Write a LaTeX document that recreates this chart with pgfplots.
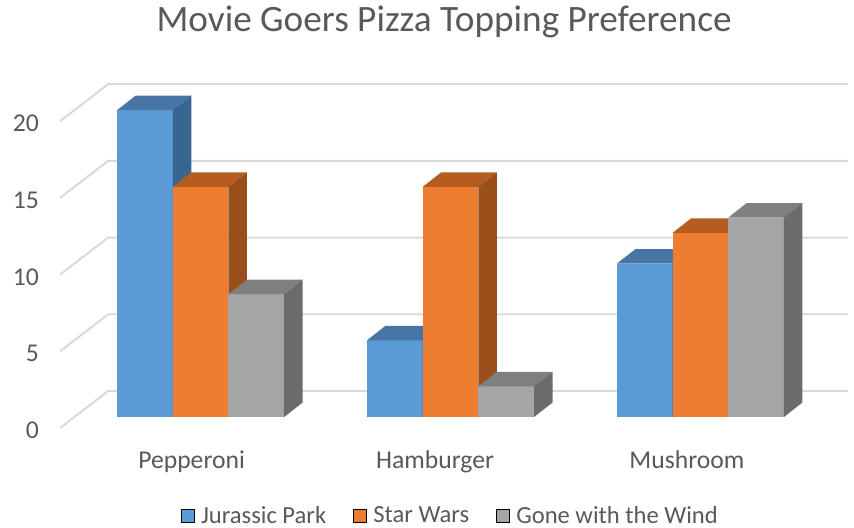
\documentclass[border=0pt]{standalone}
\usepackage{pgfplots}
\pgfplotsset{compat=1.18}
\usepackage{fontspec}
\setmainfont{Carlito}
\definecolor{jpF}{HTML}{5B9BD5}
\definecolor{jpT}{HTML}{4675A6}
\definecolor{jpS}{HTML}{386690}
\definecolor{swF}{HTML}{ED7D31}
\definecolor{swT}{HTML}{B55D20}
\definecolor{swS}{HTML}{9A4E1A}
\definecolor{gwF}{HTML}{A5A5A5}
\definecolor{gwT}{HTML}{7F7F7F}
\definecolor{gwS}{HTML}{6B6B6B}
\definecolor{txt}{HTML}{595959}
\definecolor{grd}{HTML}{D9D9D9}

% #1 left edge (px), #2 value, #3 front, #4 top, #5 side colour
\newcommand\cube[5]{%
  \pgfmathsetmacro\xa{#1}%
  \pgfmathsetmacro\xb{#1+55.7}%
  \pgfmathsetmacro\xc{#1+55.7+18.5}%
  \pgfmathsetmacro\xd{#1+18.5}%
  \pgfmathsetmacro\vb{#2+0.945}%
  \edef\tmp{%
   \noexpand\addplot[forget plot, fill=#3, draw=none] coordinates {(\xa,0) (\xb,0) (\xb,#2) (\xa,#2)} -- cycle;
   \noexpand\addplot[forget plot, fill=#4, draw=none] coordinates {(\xa,#2) (\xb,#2) (\xc,\vb) (\xd,\vb)} -- cycle;
   \noexpand\addplot[forget plot, fill=#5, draw=none] coordinates {(\xb,0) (\xc,0.945) (\xc,\vb) (\xb,#2)} -- cycle;
  }\tmp}

\newcommand\gridl[1]{%
  \pgfmathsetmacro\ga{#1-0.717}%
  \pgfmathsetmacro\gb{#1+1.694}%
  \edef\tmp{%
   \noexpand\addplot[forget plot, grd, line width=1.1pt] coordinates {(60,\ga) (108,\gb) (848,\gb)};
  }\tmp}

\begin{document}
\begin{tikzpicture}
\begin{axis}[
  width=17.08cm, height=10.54cm, scale only axis,
  xmin=0, xmax=854, ymin=-7.166, ymax=27.166,
  clip=false,
  axis line style={draw=none}, major tick length=0pt,
  ytick={-0.88,4.12,9.12,14.12,19.12},
  yticklabels={0,5,10,15,20},
  yticklabel style={anchor=east, inner sep=0pt, xshift=0.78cm,
    font=\fontsize{14.6}{16}\selectfont, text=txt},
  xtick={191.5,435,687},
  xticklabels={Pepperoni,Hamburger,Mushroom},
  xticklabel style={anchor=base, inner sep=0pt, yshift=1.16cm,
    font=\fontsize{14.6}{16}\selectfont, text=txt},
  legend columns=3,
  legend style={at={(0.527,0.021)}, anchor=center, draw=none, fill=none,
    inner sep=0pt, outer sep=0pt,
    font=\fontsize{14}{16}\selectfont, text=txt,
    nodes={inner sep=1pt},
    /tikz/every odd column/.append style={column sep=0.1cm},
    /tikz/every even column/.append style={column sep=0.5cm}},
  legend image code/.code={\fill[#1] (0,-0.13cm) rectangle (0.26cm,0.13cm);},
]
\node[inner sep=0pt, anchor=center, font=\fontsize{21.2}{24}\selectfont, text=txt]
  at (rel axis cs:0.52,0.958) {Movie Goers Pizza Topping Preference};

\gridl{0}\gridl{5}\gridl{10}\gridl{15}\gridl{20}

% Pepperoni
\cube{117}{20}{jpF}{jpT}{jpS}
\cube{172.7}{15}{swF}{swT}{swS}
\cube{228.4}{8}{gwF}{gwT}{gwS}
% Hamburger
\cube{367}{5}{jpF}{jpT}{jpS}
\cube{422.7}{15}{swF}{swT}{swS}
\cube{478.4}{2}{gwF}{gwT}{gwS}
% Mushroom
\cube{617}{10}{jpF}{jpT}{jpS}
\cube{672.7}{12}{swF}{swT}{swS}
\cube{728.4}{13}{gwF}{gwT}{gwS}

\addlegendimage{fill=jpF}\addlegendentry{Jurassic Park}
\addlegendimage{fill=swF}\addlegendentry{Star Wars}
\addlegendimage{fill=gwF}\addlegendentry{Gone with the Wind}
\end{axis}
\end{tikzpicture}
\end{document}
